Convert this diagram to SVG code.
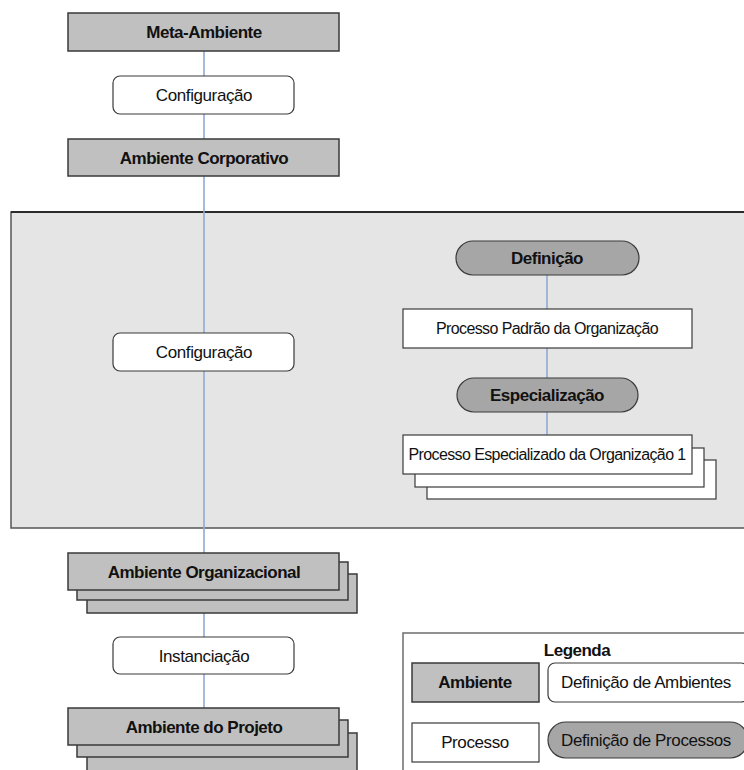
<svg xmlns="http://www.w3.org/2000/svg" width="744" height="770" viewBox="0 0 744 770">
  <style>
    .env { fill: #c0c0c0; stroke: #3a3a3a; stroke-width: 1.5; }
    .act { fill: #ffffff; stroke: #3a3a3a; stroke-width: 1.2; }
    .proc { fill: #ffffff; stroke: #3a3a3a; stroke-width: 1.2; }
    .pill { fill: #a6a6a6; stroke: #3a3a3a; stroke-width: 1.2; }
    .panel { fill: #e5e5e5; stroke: #555555; stroke-width: 1.5; }
    .legend { fill: #ffffff; stroke: #6e6e6e; stroke-width: 1.5; }
    .link { stroke: #8eaad8; stroke-width: 1.6; fill: none; }
    text { font-family: "Liberation Sans", Arial, sans-serif; fill: #111111; text-anchor: middle; }
    .tb { font-size: 17px; font-weight: bold; letter-spacing: -0.5px; }
    .tr { font-size: 17px; letter-spacing: -0.4px; }
    .tp { font-size: 16px; letter-spacing: -0.6px; }
  </style>

  <!-- organisational configuration area -->
  <g id="config-area">
    <rect class="panel" x="11" y="212" width="745" height="316"/>
    <line x1="11" y1="212" x2="744" y2="212" stroke="#111111" stroke-width="1.5"/>
  </g>

  <!-- connectors -->
  <g id="connectors">
    <line class="link" x1="204" y1="51" x2="204" y2="708"/>
    <line class="link" x1="547" y1="275" x2="547" y2="309"/>
    <line class="link" x1="547" y1="348" x2="547" y2="378"/>
    <line class="link" x1="547" y1="412" x2="547" y2="435"/>
  </g>

  <g id="meta-ambiente">
    <rect class="env" x="68" y="13" width="271" height="38"/>
    <text class="tb" x="204" y="38">Meta-Ambiente</text>
  </g>

  <g id="configuracao-1">
    <rect class="act" x="113" y="76" width="181" height="38" rx="7"/>
    <text class="tr" x="204" y="101">Configuração</text>
  </g>

  <g id="ambiente-corporativo">
    <rect class="env" x="68" y="139" width="271" height="37"/>
    <text class="tb" x="204" y="164">Ambiente Corporativo</text>
  </g>

  <g id="configuracao-2">
    <rect class="act" x="113" y="333" width="181" height="38" rx="7"/>
    <text class="tr" x="204" y="358">Configuração</text>
  </g>

  <g id="definicao">
    <rect class="pill" x="456" y="241" width="183" height="34" rx="17"/>
    <text class="tb" x="547" y="264">Definição</text>
  </g>

  <g id="processo-padrao">
    <rect class="proc" x="403" y="309" width="289" height="39"/>
    <text class="tp" x="547" y="334">Processo Padrão da Organização</text>
  </g>

  <g id="especializacao">
    <rect class="pill" x="457" y="378" width="181" height="34" rx="17"/>
    <text class="tb" x="547" y="401">Especialização</text>
  </g>

  <g id="processo-especializado">
    <rect class="proc" x="427" y="460" width="289" height="39"/>
    <rect class="proc" x="415" y="448" width="289" height="39"/>
    <rect class="proc" x="403" y="435" width="289" height="39"/>
    <text class="tp" x="547" y="460">Processo Especializado da Organização 1</text>
  </g>

  <g id="ambiente-organizacional">
    <rect class="env" x="87" y="574" width="270" height="39"/>
    <rect class="env" x="77" y="562" width="271" height="38"/>
    <rect class="env" x="68" y="553" width="271" height="37"/>
    <text class="tb" x="204" y="578">Ambiente Organizacional</text>
  </g>

  <g id="instanciacao">
    <rect class="act" x="113" y="637" width="181" height="37" rx="7"/>
    <text class="tr" x="204" y="662">Instanciação</text>
  </g>

  <g id="ambiente-projeto">
    <rect class="env" x="87" y="733" width="270" height="45"/>
    <rect class="env" x="77" y="720" width="271" height="37"/>
    <rect class="env" x="68" y="708" width="271" height="37"/>
    <text class="tb" x="204" y="733">Ambiente do Projeto</text>
  </g>

  <!-- legend -->
  <g id="legenda">
    <rect class="legend" x="403" y="633" width="350" height="150"/>
    <text class="tb" x="577" y="656">Legenda</text>
    <rect class="env" x="412" y="663" width="127" height="39"/>
    <text class="tb" x="475" y="688">Ambiente</text>
    <rect class="act" x="548" y="663" width="200" height="39" rx="7"/>
    <text class="tr" x="646" y="688">Definição de Ambientes</text>
    <rect class="proc" x="412" y="723" width="127" height="39"/>
    <text class="tr" x="475" y="748">Processo</text>
    <rect class="pill" x="548" y="722" width="200" height="36" rx="18"/>
    <text class="tr" x="646" y="746">Definição de Processos</text>
  </g>
</svg>
